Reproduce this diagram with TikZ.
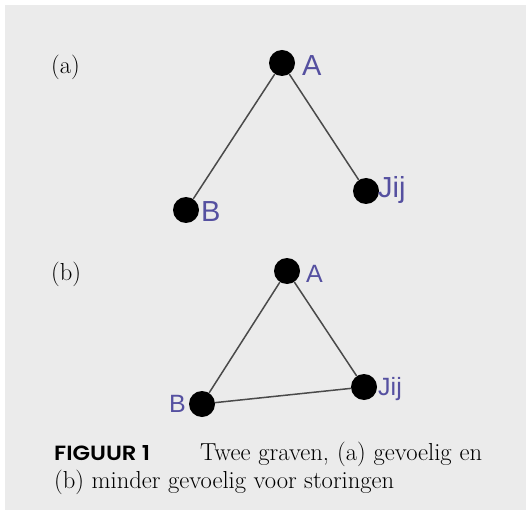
\documentclass[tikz,border=0pt]{standalone}
\usepackage{fontspec}
\newfontfamily\lblfont{Liberation Sans}
\newfontfamily\capfont{Poppins}[BoldFont={* SemiBold}]
\definecolor{bg}{HTML}{EBEBEB}
\definecolor{lbl}{HTML}{5550A0}
\definecolor{edge}{HTML}{4A4A4A}
\begin{document}
\begin{tikzpicture}[x=1pt,y=-1pt,
  vtx/.style={circle,fill=black,inner sep=0pt,minimum size=26pt},
  vlab/.style={text=lbl,font=\lblfont\fontsize{29}{29}\selectfont,inner sep=0pt,anchor=west},
  vlabs/.style={text=lbl,font=\lblfont\fontsize{25}{25}\selectfont,inner sep=0pt,anchor=west},
  con/.style={draw=edge,line width=1.5pt},
  tag/.style={font=\fontsize{24.6}{28}\selectfont,inner sep=0pt,anchor=base west},
  captxt/.style={font=\fontsize{24.6}{28}\selectfont,inner sep=0pt,anchor=base west}]
\useasboundingbox (0,0) rectangle (526,510);
\fill[bg] (5,5) rectangle (526,510);
% (a)
\node[tag] (ta) at (51,74) {(a)};
\node[vtx] (aA) at (282,63) {};
\node[vtx] (aB) at (186,210) {};
\node[vtx] (aJ) at (366,191) {};
\draw[con] (aA) -- (aB);
\draw[con] (aA) -- (aJ);
\node[vlab] (laA) at (302,65.5) {A};
\node[vlab] (laB) at (201,211.5) {B};
\node[vlab] (laJ) at (378,190.5) {Jij};
% (b)
\node[tag] (tb) at (51,280) {(b)};
\node[vtx] (bA) at (287,271) {};
\node[vtx] (bB) at (202,404) {};
\node[vtx] (bJ) at (364,387) {};
\draw[con] (bA) -- (bB);
\draw[con] (bA) -- (bJ);
\draw[con] (bB) -- (bJ);
\node[vlabs] (lbA) at (306,274) {A};
\node[vlabs] (lbB) at (169,404) {B};
\node[vlabs] (lbJ) at (378,389) {Jij};
% caption
\node[captxt] (fig) at (54,460) {\resizebox{96pt}{15pt}{\capfont\bfseries FIGUUR 1}};
\node[captxt] (c1) at (200,460) {\makebox[282pt][s]{Twee graven, (a) gevoelig en}};
\node[captxt] (c2) at (54,488) {(b) minder gevoelig voor storingen};
\end{tikzpicture}
\end{document}
